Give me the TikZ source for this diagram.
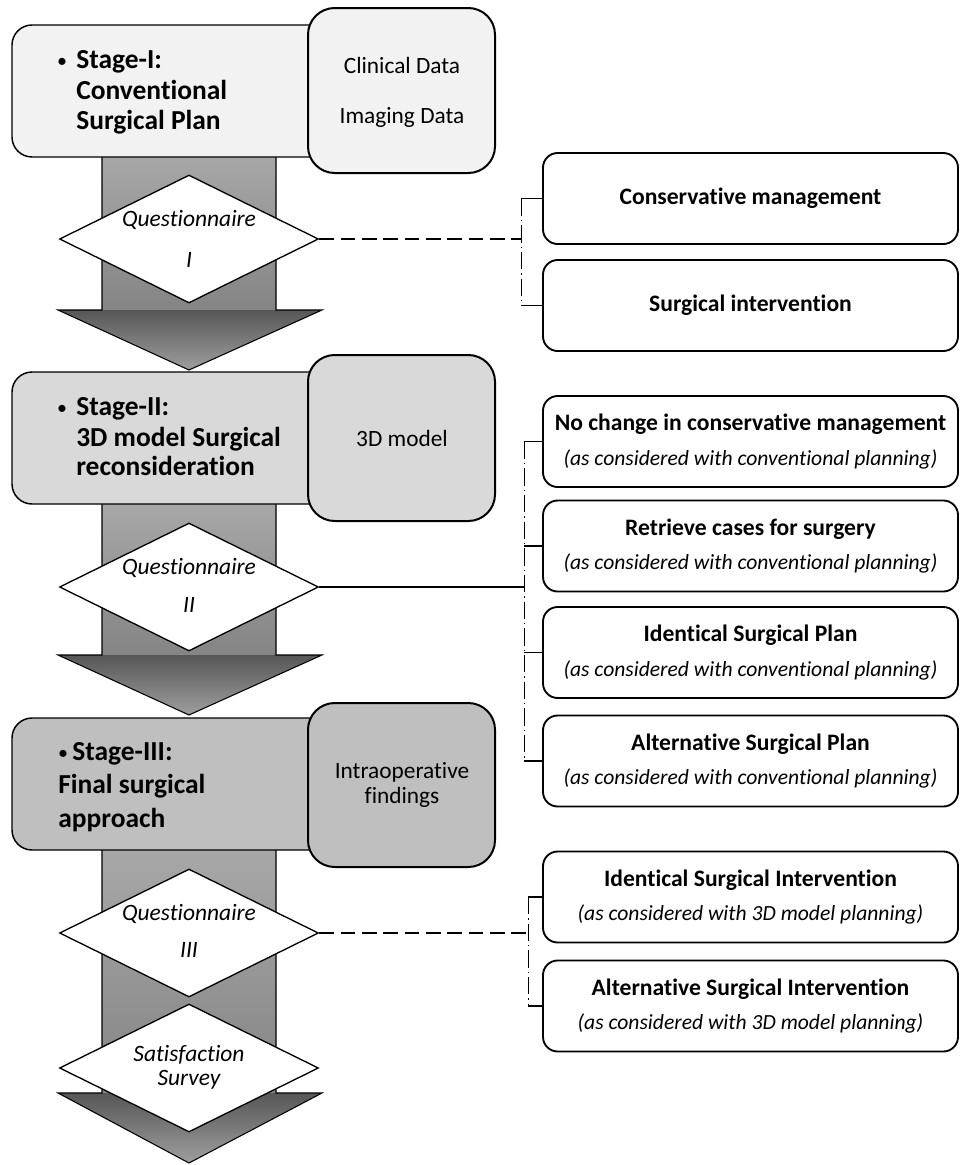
\documentclass[tikz,border=0pt]{standalone}
\usepackage{fontspec}
\setmainfont{Carlito}[Ligatures=NoCommon]
\usetikzlibrary{shapes.geometric,calc}
\definecolor{stageone}{gray}{0.95}
\definecolor{stagetwo}{gray}{0.85}
\definecolor{stagethree}{gray}{0.75}
\definecolor{shaftA}{gray}{0.66}
\definecolor{shaftB}{gray}{0.52}
\definecolor{headA}{gray}{0.34}
\definecolor{headB}{gray}{0.62}
\newcommand\subline[1]{{\fontsize{16.2}{26}\selectfont\mdseries\itshape #1}}
\newcommand\flowarrowshape[3]{%
  \shade[top color=shaftA,bottom color=shaftB] (102,#1) rectangle (276,#2);
  \shade[top color=headA,bottom color=headB] (58,#2) -- (322,#2) -- (189,#3) -- cycle;
  \draw[line width=0.8pt,line join=miter] (102,#1) -- (102,#2) -- (58,#2) -- (189,#3) -- (322,#2) -- (276,#2) -- (276,#1);
}
\begin{document}
\begin{tikzpicture}[x=0.75pt,y=-0.75pt,
  stagebox/.style={draw=black, line width=1.1pt, rounded corners=15pt, minimum width=291pt, minimum height=99pt, inner sep=0pt},
  sidebox/.style={draw=black, line width=1.5pt, rounded corners=20pt, minimum width=140.25pt, inner sep=0pt, align=center, font=\fontsize{17.5}{19}\selectfont},
  optbox/.style={draw=black, line width=1.4pt, rounded corners=11pt, fill=white, minimum width=311.25pt, minimum height=68.25pt, inner sep=0pt, align=center, font=\fontsize{17.7}{26}\selectfont\bfseries},
  quest/.style={diamond, draw=black, line width=1pt, fill=white, minimum width=194.25pt, minimum height=96pt, inner sep=0pt},
  qtext/.style={inner sep=0pt, font=\fontsize{17.6}{20}\selectfont\itshape},
  stagetext/.style={anchor=base west, inner sep=0pt, font=\fontsize{20.6}{24}\selectfont\bfseries},
  bullettext/.style={anchor=base, inner sep=0pt, font=\fontsize{15}{16}\selectfont},
  sidetext/.style={inner sep=0pt, font=\fontsize{17.5}{19}\selectfont},
  hdash/.style={line width=0.8pt, dash pattern=on 11pt off 5pt},
  vdashdot/.style={line width=0.7pt, dash pattern=on 13pt off 3pt on 1pt off 3pt},
  stub/.style={line width=1pt},
]
\useasboundingbox (0,0) rectangle (960,1165);

% arrows
\flowarrowshape{150}{310}{370}
\flowarrowshape{500}{655}{715}
\flowarrowshape{845}{1093}{1163}

% Stage I
\node[stagebox, fill=stageone] (st1) at (206,91) {};
\node[sidebox, fill=stageone, minimum height=123.75pt] (sd1) at (401.5,90.5) {};
\node[bullettext] (b1) at (62,67) {•};
\node[stagetext] (s1a) at (76,68) {Stage-I:};
\node[stagetext] (s1b) at (76,99) {Conventional};
\node[stagetext] (s1c) at (76,129) {Surgical Plan};
\node[sidetext] (d1a) at (402,65) {Clinical Data};
\node[sidetext] (d1b) at (402,117) {Imaging Data};

% Stage II
\node[stagebox, fill=stagetwo] (st2) at (206,438) {};
\node[sidebox, fill=stagetwo, minimum height=124.5pt] (sd2) at (401.5,438) {};
\node[bullettext] (b2) at (62,414) {•};
\node[stagetext] (s2a) at (76,415) {Stage-II:};
\node[stagetext] (s2b) at (76,446) {3D model Surgical};
\node[stagetext] (s2c) at (76,475) {reconsideration};
\node[sidetext] (d2a) at (402,438) {3D model};

% Stage III
\node[stagebox, fill=stagethree] (st3) at (206,784) {};
\node[sidebox, fill=stagethree, minimum height=123pt] (sd3) at (401.5,785) {};
\node[bullettext] (b3) at (63,759) {•};
\node[stagetext] (s3a) at (72,760) {Stage-III:};
\node[stagetext] (s3b) at (58,793) {Final surgical};
\node[stagetext] (s3c) at (58,827) {approach};
\node[sidetext] (d3a) at (402,772) {Intraoperative};
\node[sidetext] (d3b) at (402,797) {findings};

% diamonds
\node[quest] (q1) at (189,239) {};
\node[qtext] (q1a) at (189,220) {Questionnaire};
\node[qtext] (q1b) at (189,260) {I};
\node[quest] (q2) at (189,587) {};
\node[qtext] (q2a) at (189,568) {Questionnaire};
\node[qtext] (q2b) at (189,605) {II};
\node[quest] (q3) at (189,933) {};
\node[qtext] (q3a) at (189,914) {Questionnaire};
\node[qtext] (q3b) at (189,950) {III};
\node[quest] (q4) at (189,1068) {};
\node[qtext] (q4a) at (189,1055) {Satisfaction};
\node[qtext] (q4b) at (189,1080) {Survey};

% option boxes
\node[optbox] (o1) at (750.5,198.5) {Conservative management};
\node[optbox] (o2) at (750.5,305.5) {Surgical intervention};
\node[optbox] (n1) at (750.5,441.5) {No change in conservative management\\\subline{(as considered with conventional planning)}};
\node[optbox] (n2) at (750.5,546) {Retrieve cases for surgery\\\subline{(as considered with conventional planning)}};
\node[optbox] (n3) at (750.5,652.5) {Identical Surgical Plan\\\subline{(as considered with conventional planning)}};
\node[optbox] (n4) at (750.5,761) {Alternative Surgical Plan\\\subline{(as considered with conventional planning)}};
\node[optbox] (f1) at (750.5,897) {Identical Surgical Intervention\\\subline{(as considered with 3D model planning)}};
\node[optbox] (f2) at (750.5,1006) {Alternative Surgical Intervention\\\subline{(as considered with 3D model planning)}};

% connectors
\coordinate (j1) at (521,239);
\coordinate (j2) at (524,587);
\coordinate (j3) at (528,933);

\draw[hdash] (q1.east) -- (j1);
\draw[vdashdot] (o1.west -| j1) -- (o2.west -| j1);
\draw[stub] (o1.west -| j1) -- (o1.west);
\draw[stub] (o2.west -| j1) -- (o2.west);

\draw[stub] (q2.east) -- (j2);
\draw[vdashdot] (n1.west -| j2) -- (n4.west -| j2);
\draw[stub] (n1.west -| j2) -- (n1.west);
\draw[stub] (n2.west -| j2) -- (n2.west);
\draw[stub] (n3.west -| j2) -- (n3.west);
\draw[stub] (n4.west -| j2) -- (n4.west);

\draw[hdash] (q3.east) -- (j3);
\draw[vdashdot] (f1.west -| j3) -- (f2.west -| j3);
\draw[stub] (f1.west -| j3) -- (f1.west);
\draw[stub] (f2.west -| j3) -- (f2.west);
\end{tikzpicture}
\end{document}
